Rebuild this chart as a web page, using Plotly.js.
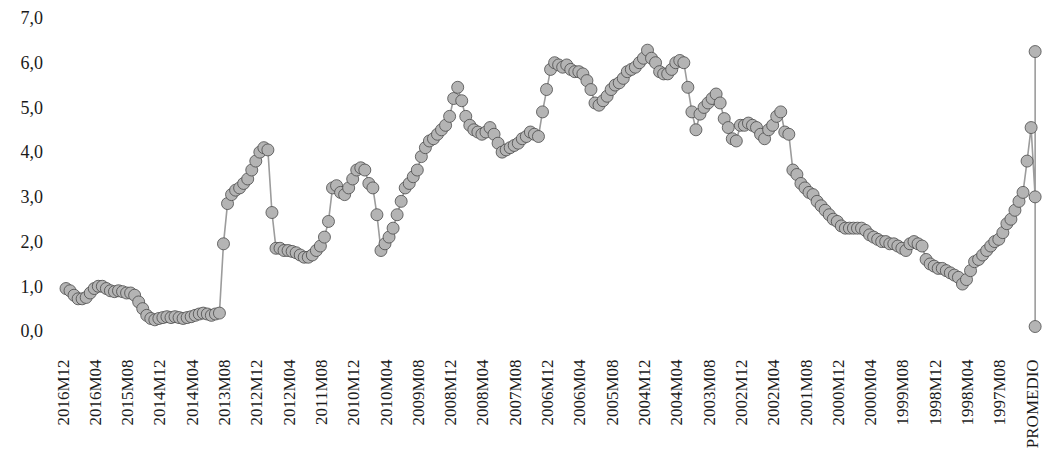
<!DOCTYPE html>
<html>
<head>
<meta charset="utf-8">
<script src="https://cdn.plot.ly/plotly-3.0.1.min.js"></script>
<style>html,body{margin:0;padding:0;background:#fff;}#chart{width:1043px;height:473px;}</style>
</head>
<body>
<div id="chart"></div>
<script>
// Monthly values, from 2016M12 (left) back to 1997M01 (right)
const firstYear = 2016, firstMonth = 12, nMonths = 240;
const values2016to2012 = [
  0.95,0.9,0.8,0.72,0.72,0.75,0.85,0.95,1.0,1.0,0.95,0.9,0.88,0.9,0.88,0.85,0.85,0.8,0.65,0.5,
  0.35,0.28,0.25,0.28,0.3,0.32,0.3,0.32,0.3,0.28,0.3,0.32,0.35,0.38,0.4,0.38,0.35,0.38,0.4,1.95,
  2.85,3.05,3.15,3.2,3.3,3.4,3.6,3.8,4.0,4.1,4.05,2.65,1.85,1.85,1.8,1.8,1.78,1.75,1.7,1.65
];
const values2011to2007 = [
  1.65,1.7,1.8,1.9,2.1,2.45,3.2,3.25,3.1,3.05,3.2,3.4,3.6,3.65,3.6,3.3,3.2,2.6,1.8,1.95,
  2.1,2.3,2.6,2.9,3.2,3.3,3.45,3.6,3.9,4.1,4.25,4.3,4.4,4.5,4.6,4.8,5.2,5.45,5.15,4.8,
  4.6,4.5,4.45,4.4,4.45,4.55,4.4,4.2,4.0,4.05,4.1,4.15,4.2,4.3,4.35,4.45,4.4,4.35,4.9,5.4
];
const values2006to2002 = [
  5.85,6.0,5.95,5.9,5.95,5.85,5.8,5.8,5.75,5.6,5.4,5.1,5.05,5.15,5.25,5.4,5.5,5.55,5.65,5.8,
  5.85,5.9,6.0,6.1,6.28,6.1,6.0,5.8,5.75,5.75,5.85,6.0,6.05,6.0,5.45,4.9,4.5,4.85,5.0,5.1,
  5.2,5.3,5.1,4.75,4.55,4.3,4.25,4.6,4.6,4.65,4.6,4.55,4.4,4.3,4.5,4.6,4.8,4.9,4.45,4.4
];
const values2001to1997 = [
  3.6,3.5,3.3,3.2,3.1,3.05,2.9,2.8,2.7,2.6,2.5,2.45,2.35,2.3,2.3,2.3,2.3,2.3,2.25,2.15,
  2.1,2.05,2.0,2.0,1.95,1.95,1.9,1.85,1.8,1.95,2.0,1.95,1.9,1.6,1.5,1.45,1.4,1.4,1.35,1.3,
  1.25,1.2,1.05,1.15,1.35,1.55,1.6,1.7,1.8,1.9,2.0,2.05,2.2,2.4,2.5,2.7,2.9,3.1,3.8,4.55
];
const averageLabel = "PROMEDIO";
const averageValue = 3.0;
const maxValue = 6.25;
const minValue = 0.1;
const tickEvery = 8;

const monthLabels = [];
{
  let y = firstYear, m = firstMonth;
  for (let i = 0; i < nMonths; i++) {
    monthLabels.push(y + "M" + String(m).padStart(2, "0"));
    m--; if (m === 0) { m = 12; y--; }
  }
}
const categories = monthLabels.concat([averageLabel]);
const seriesValues = values2016to2012.concat(values2011to2007, values2006to2002, values2001to1997);

const xs = monthLabels.concat([averageLabel, averageLabel, averageLabel]);
const ys = seriesValues.concat([averageValue, maxValue, minValue]);

const tickvals = categories.filter((c, i) => i % tickEvery === 0);

const fontFam = "Liberation Serif, DejaVu Serif, serif";

Plotly.newPlot("chart", [{
  type: "scatter",
  mode: "lines+markers",
  x: xs,
  y: ys,
  cliponaxis: false,
  line: {color: "#9c9c9c", width: 1.6},
  marker: {size: 12, color: "#b4b4b4", line: {color: "#4a4a4a", width: 0.8}},
  hoverinfo: "x+y"
}], {
  width: 1043,
  height: 473,
  margin: {l: 58, r: 2, t: 18, b: 142},
  paper_bgcolor: "#ffffff",
  plot_bgcolor: "#ffffff",
  separators: ",.",
  showlegend: false,
  font: {family: fontFam, size: 18, color: "#1a1a1a"},
  xaxis: {
    type: "category",
    categoryorder: "array",
    categoryarray: categories,
    range: [-1.98, 241.45],
    tickmode: "array",
    tickvals: tickvals,
    ticktext: tickvals,
    tickangle: -90,
    ticks: "",
    showgrid: false,
    zeroline: false,
    showline: false,
    automargin: false,
    ticklabelstandoff: 24,
    ticklabelshift: -3,
    tickfont: {family: fontFam, size: 17, color: "#1a1a1a"}
  },
  yaxis: {
    range: [0, 7],
    dtick: 1,
    tickformat: ".1f",
    ticks: "",
    showgrid: false,
    zeroline: false,
    showline: false,
    ticklabelstandoff: 14,
    tickfont: {family: fontFam, size: 18, color: "#1a1a1a"}
  }
}, {staticPlot: true});
</script>
</body>
</html>
